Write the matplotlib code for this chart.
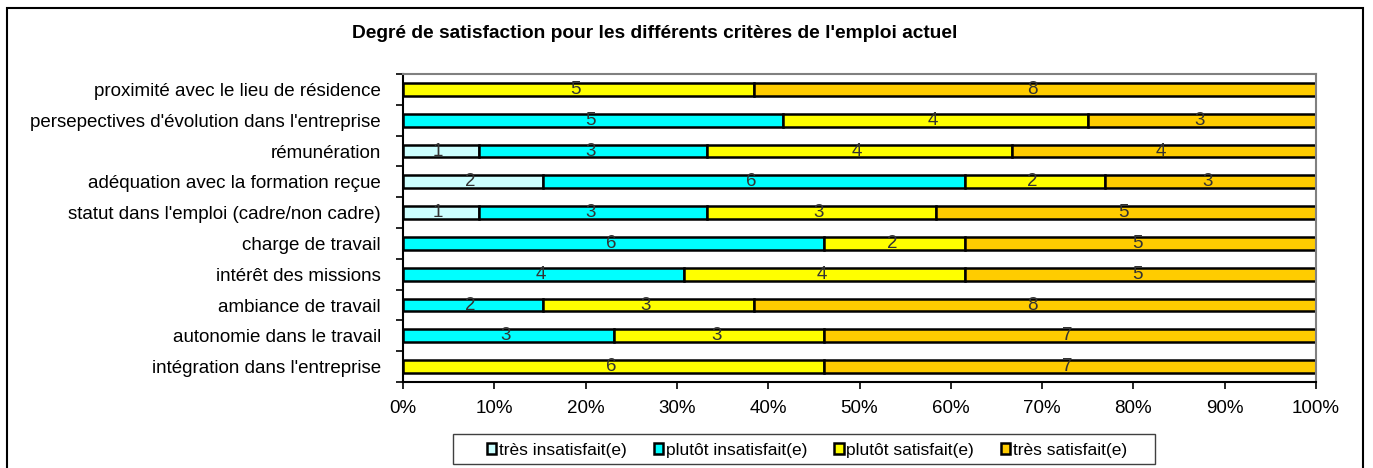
import matplotlib.pyplot as plt
from matplotlib.patches import Rectangle
import numpy as np

plt.rcParams['font.family'] = ['Liberation Sans', 'DejaVu Sans']

# categories from bottom to top
categories = [
    "intégration dans l'entreprise",
    "autonomie dans le travail",
    "ambiance de travail",
    "intérêt des missions",
    "charge de travail",
    "statut dans l'emploi (cadre/non cadre)",
    "adéquation avec la formation reçue",
    "rémunération",
    "persepectives d'évolution dans l'entreprise",
    "proximité avec le lieu de résidence",
]
tres_insatisfait = [0, 0, 0, 0, 0, 1, 2, 1, 0, 0]
plutot_insatisfait = [0, 3, 2, 4, 6, 3, 6, 3, 5, 0]
plutot_satisfait = [6, 3, 3, 4, 2, 3, 2, 4, 4, 5]
tres_satisfait = [7, 7, 8, 5, 5, 5, 3, 4, 3, 8]

series = [
    ("très insatisfait(e)", tres_insatisfait, "#CCFFFF"),
    ("plutôt insatisfait(e)", plutot_insatisfait, "#00FFFF"),
    ("plutôt satisfait(e)", plutot_satisfait, "#FFFF00"),
    ("très satisfait(e)", tres_satisfait, "#FFCC00"),
]

W, H = 1373, 468
fig = plt.figure(figsize=(W / 100, H / 100), dpi=100)
ax = fig.add_axes([403 / W, 86 / H, (1316 - 403) / W, (382 - 74) / H])

totals = np.sum([s[1] for s in series], axis=0).astype(float)
y = np.arange(len(categories))
left = np.zeros(len(categories))
handles = []
for name, vals, color in series:
    vals = np.array(vals, dtype=float)
    frac = vals / totals
    bars = ax.barh(y, frac, left=left, height=0.42, color=color,
                   edgecolor='black', linewidth=1.8, label=name)
    labels = [str(int(v)) if v > 0 else '' for v in vals]
    ax.bar_label(bars, labels=labels, label_type='center', fontsize=13.5,
                 color='#333333', padding=-2)
    left += frac
    handles.append(Rectangle((0, 0), 1, 1, facecolor=color, edgecolor='black', linewidth=1.8))

ax.set_xlim(0, 1)
ax.set_ylim(-0.5, len(categories) - 0.5)
ax.set_xticks(np.arange(0, 1.01, 0.1))
ax.set_xticklabels([f"{int(round(t * 100))}%" for t in np.arange(0, 1.01, 0.1)], fontsize=13.5)
ax.set_yticks(y)
ax.set_yticklabels(categories, fontsize=13.5)
ax.set_yticks(np.arange(-0.5, len(categories), 1), minor=True)
ax.tick_params(axis='y', which='major', length=0, pad=16)
ax.tick_params(axis='y', which='minor', length=5, width=1.2, direction='out')
ax.tick_params(axis='x', length=5, width=1.2, direction='out', pad=8)

for side in ['top', 'right']:
    ax.spines[side].set_color('#808080')
    ax.spines[side].set_linewidth(1.5)
for side in ['left', 'bottom']:
    ax.spines[side].set_color('black')
    ax.spines[side].set_linewidth(1.5)

fig.text(655 / W, 1 - 34 / H, "Degré de satisfaction pour les différents critères de l'emploi actuel",
         ha='center', va='center', fontsize=13.8, fontweight='bold')

# legend box drawn separately so its width matches
fig.patches.append(Rectangle((453 / W, 1 - 464 / H), (1155 - 453) / W, 30 / H,
                             transform=fig.transFigure, fill=False,
                             edgecolor='#404040', linewidth=1.0))
leg = fig.legend(handles, [s[0] for s in series], loc='center',
                 bbox_to_anchor=(807 / W, 1 - 450 / H), ncol=4, fontsize=12.5,
                 frameon=False, handlelength=0.55, handleheight=0.55,
                 handletextpad=0.15, columnspacing=1.55)

# outer chart border
fig.patches.append(Rectangle((7 / W, -0.05), (1363 - 7) / W, 1.05 - 8 / H,
                             transform=fig.transFigure, fill=False,
                             edgecolor='black', linewidth=1.5))

fig.savefig('out.png', dpi=100)
